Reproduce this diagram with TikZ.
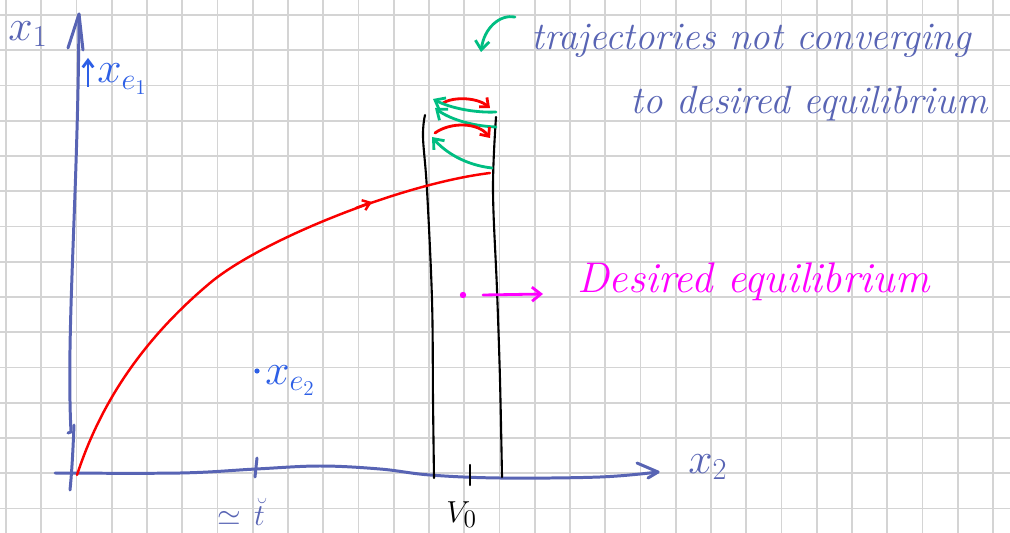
\documentclass[tikz,border=0pt]{standalone}
\usetikzlibrary{arrows.meta}
\definecolor{axisblue}{RGB}{88,100,180}
\definecolor{labblue}{RGB}{45,95,230}
\definecolor{trajgreen}{RGB}{0,190,130}
\definecolor{trajred}{RGB}{250,0,0}
\definecolor{magentaink}{RGB}{255,0,255}
\definecolor{gridgray}{RGB}{212,212,212}
\begin{document}
\begin{tikzpicture}[x=0.02cm,y=-0.02cm,
  gridline/.style={gridgray,line width=1.1pt},
  axisline/.style={axisblue,line width=1.7pt,line cap=round,line join=round},
  stripline/.style={black,line width=1.2pt,line cap=round},
  redpath/.style={trajred,line width=1.4pt,line cap=round,line join=round},
  greenarc/.style={trajgreen,line width=1.6pt,line cap=round,-{Straight Barb[length=5pt,width=8pt,line width=1.6pt]}},
  redarc/.style={trajred,line width=1.6pt,line cap=round,-{Straight Barb[length=4pt,width=7pt,line width=1.6pt]}},
  handtext/.style={inner sep=0pt,font=\fontsize{22.2}{26}\selectfont\itshape},
  mathlab/.style={inner sep=0pt,font=\fontsize{24}{28}\selectfont}
]
\useasboundingbox (0,0) rectangle (1010,533);
\fill[white] (0,0) rectangle (1010,533);
% grid paper
\foreach \i in {0,...,28} \draw[gridline] ({6+35.25*\i},0) -- ({6+35.25*\i},533);
\foreach \j in {0,...,14} \draw[gridline] (0,{15+35.25*\j}) -- (1010,{15+35.25*\j});

% axes
\coordinate (ytip) at (79,14);
\coordinate (xtip) at (658,472);
\draw[axisline] (ytip) .. controls (78,200) and (66,330) .. (71,432) -- (68,433);
\draw[axisline] (74,425) .. controls (73,450) and (72,470) .. (70,490);
\draw[axisline] (68,48) -- (ytip) -- (83,50);
\draw[axisline] plot[smooth,tension=0.6] coordinates {(55,473) (180,473) (256,469) (320,466) (380,469) (430,475) (500,478) (600,477) (xtip)};
\draw[axisline] (637,463) -- (xtip) -- (648,478);
\draw[axisline] (257,458) -- (255,477);

% axis labels
\node[mathlab,text=axisblue] (xone) at (28,34) {$x_1$};
\node[mathlab,text=axisblue,anchor=base west] (xtwo) at (688,473) {$x_2$};
\node[mathlab,text=axisblue,font=\fontsize{17}{20}\selectfont] (tlab) at (241,512) {$\simeq\,\breve{t}$};

% strip around V0
\draw[stripline] plot[smooth,tension=0.6] coordinates {(425,115) (423,137) (427,190) (432,300) (433,400) (434,478)};
\draw[stripline] plot[smooth,tension=0.6] coordinates {(496,117) (493,190) (497,290) (500,380) (502,477)};
\draw[stripline] (470,465) -- (470,485);
\node[mathlab,text=black,anchor=base west,font=\fontsize{19}{23}\selectfont] (vzero) at (446,522) {$V_0$};

% equilibria
\draw[labblue,line width=1.6pt,-{Straight Barb[length=4pt,width=6pt,line width=1.6pt]}] (88,87) -- (88,58);
\node[mathlab,text=labblue,anchor=base west,font=\fontsize{25}{29}\selectfont] (xeone) at (97,83) {$x_{e_1}$};
\fill[labblue] (257,371) circle (2.6);
\node[mathlab,text=labblue,anchor=base west,font=\fontsize{23}{27}\selectfont] (xetwo) at (265,384) {$x_{e_2}$};

% red trajectory
\coordinate (O) at (77,475);
\coordinate (M) at (210,283);
\coordinate (E) at (490,173);
\draw[redpath] (O) .. controls (95,420) and (130,350) .. (M) .. controls (260,241) and (400,184) .. (E);
\draw[redpath,-{Straight Barb[length=4pt,width=6pt,line width=1.4pt]}] (356,208) -- (372,202);

% oscillating trajectories
\draw[redarc] (443,103) .. controls (455,96) and (478,98) .. (490,108);
\draw[greenarc] (496,112) .. controls (475,113) and (450,108) .. (433,99);
\draw[greenarc] (496,127) .. controls (470,126) and (448,118) .. (435,108);
\draw[redarc] (435,133) .. controls (450,122) and (478,122) .. (490,138);
\draw[greenarc] (492,168) .. controls (465,165) and (445,152) .. (432,137);

% annotation
\draw[greenarc] (515,17) .. controls (500,14) and (484,28) .. (481,52);
\node[handtext,text=axisblue,anchor=base west] (note1) at (531,50) {trajectories not converging};
\node[handtext,text=axisblue,anchor=base west] (note2) at (630,114) {to desired equilibrium};

% desired equilibrium
\fill[magentaink] (463,295) circle (3.2);
\coordinate (deqs) at (483,295);
\draw[magentaink,line width=1.6pt,line cap=round,-{Straight Barb[length=5pt,width=8pt,line width=1.6pt]}] (deqs) -- (543,294);
\node[handtext,text=magentaink,anchor=base west,font=\fontsize{24.4}{28}\selectfont\itshape] (deq) at (577,293) {Desired equilibrium};
\end{tikzpicture}
\end{document}
